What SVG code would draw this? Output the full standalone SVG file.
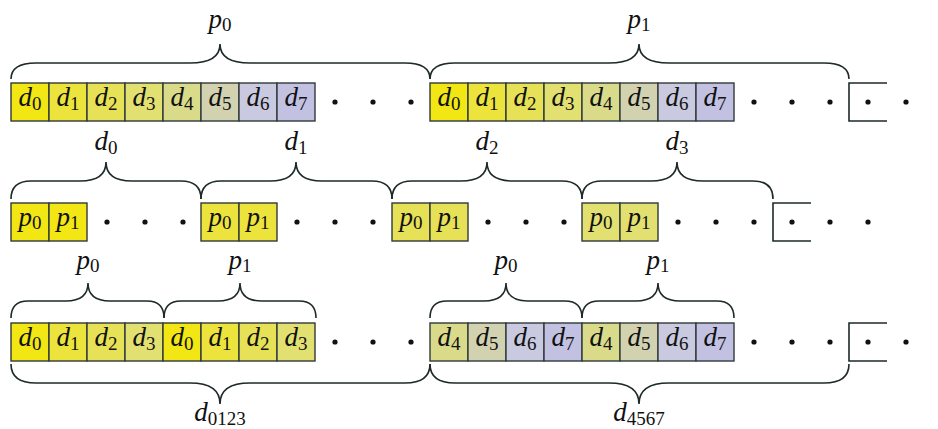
<svg xmlns="http://www.w3.org/2000/svg" width="938" height="429" viewBox="0 0 938 429">
<style>
.c{stroke:#2f3a3a;stroke-width:1.4}
.k0{fill:#f2e714}.k1{fill:#ece43c}.k2{fill:#e6e156}.k3{fill:#e2e070}
.k4{fill:#d9db8a}.k5{fill:#d2d2b0}.k6{fill:#c9c9df}.k7{fill:#c2c1e2}
.t{font-family:"Liberation Serif",serif;font-style:italic;font-size:27px;fill:#111;text-anchor:middle}
.s{font-style:normal;font-size:19px}
.b{fill:none;stroke:#1e2a2a;stroke-width:1.6}
.dot{fill:#111}
</style>
<defs>
<circle id="dt" r="2.6" class="dot"/>
</defs>

<g id="row1">
<g id="r1a">
<rect x="11" y="83" width="38" height="38" class="c k0"/><rect x="49" y="83" width="38" height="38" class="c k1"/>
<rect x="87" y="83" width="38" height="38" class="c k2"/><rect x="125" y="83" width="38" height="38" class="c k3"/>
<rect x="163" y="83" width="38" height="38" class="c k4"/><rect x="201" y="83" width="38" height="38" class="c k5"/>
<rect x="239" y="83" width="38" height="38" class="c k6"/><rect x="277" y="83" width="38" height="38" class="c k7"/>
<text x="30" y="106" class="t">d<tspan class="s" dy="4">0</tspan></text>
<text x="68" y="106" class="t">d<tspan class="s" dy="4">1</tspan></text>
<text x="106" y="106" class="t">d<tspan class="s" dy="4">2</tspan></text>
<text x="144" y="106" class="t">d<tspan class="s" dy="4">3</tspan></text>
<text x="182" y="106" class="t">d<tspan class="s" dy="4">4</tspan></text>
<text x="220" y="106" class="t">d<tspan class="s" dy="4">5</tspan></text>
<text x="258" y="106" class="t">d<tspan class="s" dy="4">6</tspan></text>
<text x="296" y="106" class="t">d<tspan class="s" dy="4">7</tspan></text>
</g>
<g id="r1b">
<rect x="430" y="83" width="38" height="38" class="c k0"/><rect x="468" y="83" width="38" height="38" class="c k1"/>
<rect x="506" y="83" width="38" height="38" class="c k2"/><rect x="544" y="83" width="38" height="38" class="c k3"/>
<rect x="582" y="83" width="38" height="38" class="c k4"/><rect x="620" y="83" width="38" height="38" class="c k5"/>
<rect x="658" y="83" width="38" height="38" class="c k6"/><rect x="696" y="83" width="38" height="38" class="c k7"/>
<text x="449" y="106" class="t">d<tspan class="s" dy="4">0</tspan></text>
<text x="487" y="106" class="t">d<tspan class="s" dy="4">1</tspan></text>
<text x="525" y="106" class="t">d<tspan class="s" dy="4">2</tspan></text>
<text x="563" y="106" class="t">d<tspan class="s" dy="4">3</tspan></text>
<text x="601" y="106" class="t">d<tspan class="s" dy="4">4</tspan></text>
<text x="639" y="106" class="t">d<tspan class="s" dy="4">5</tspan></text>
<text x="677" y="106" class="t">d<tspan class="s" dy="4">6</tspan></text>
<text x="715" y="106" class="t">d<tspan class="s" dy="4">7</tspan></text>
</g>
<g id="r1dots">
<use href="#dt" x="335" y="102"/><use href="#dt" x="373" y="102"/><use href="#dt" x="411" y="102"/>
<use href="#dt" x="754" y="102"/><use href="#dt" x="792" y="102"/><use href="#dt" x="830" y="102"/>
<use href="#dt" x="868" y="102"/><use href="#dt" x="906" y="102"/>
<path d="M887 83 H849 V121 H887" class="b"/>
</g>
<text x="220" y="28" class="t">p<tspan class="s" dy="3">0</tspan></text>
<text x="639" y="28" class="t">p<tspan class="s" dy="3">1</tspan></text>
</g>

<g id="row2">
<rect x="11" y="203" width="38" height="38" class="c k0"/><rect x="49" y="203" width="38" height="38" class="c k0"/>
<rect x="201" y="203" width="38" height="38" class="c k1"/><rect x="239" y="203" width="38" height="38" class="c k1"/>
<rect x="392" y="203" width="38" height="38" class="c k2"/><rect x="430" y="203" width="38" height="38" class="c k2"/>
<rect x="582" y="203" width="38" height="38" class="c k3"/><rect x="620" y="203" width="38" height="38" class="c k3"/>
<text x="30" y="226" class="t">p<tspan class="s" dy="3">0</tspan></text>
<text x="68" y="226" class="t">p<tspan class="s" dy="3">1</tspan></text>
<text x="220" y="226" class="t">p<tspan class="s" dy="3">0</tspan></text>
<text x="258" y="226" class="t">p<tspan class="s" dy="3">1</tspan></text>
<text x="411" y="226" class="t">p<tspan class="s" dy="3">0</tspan></text>
<text x="449" y="226" class="t">p<tspan class="s" dy="3">1</tspan></text>
<text x="601" y="226" class="t">p<tspan class="s" dy="3">0</tspan></text>
<text x="639" y="226" class="t">p<tspan class="s" dy="3">1</tspan></text>
<use href="#dt" x="107" y="222"/><use href="#dt" x="145" y="222"/><use href="#dt" x="183" y="222"/>
<use href="#dt" x="297" y="222"/><use href="#dt" x="335" y="222"/><use href="#dt" x="373" y="222"/>
<use href="#dt" x="488" y="222"/><use href="#dt" x="526" y="222"/><use href="#dt" x="564" y="222"/>
<use href="#dt" x="678" y="222"/><use href="#dt" x="716" y="222"/><use href="#dt" x="754" y="222"/>
<use href="#dt" x="792" y="222"/><use href="#dt" x="830" y="222"/><use href="#dt" x="868" y="222"/>
<path d="M811 203 H773 V241 H811" class="b"/>
<text x="106" y="150" class="t">d<tspan class="s" dy="4">0</tspan></text>
<text x="296" y="150" class="t">d<tspan class="s" dy="4">1</tspan></text>
<text x="487" y="150" class="t">d<tspan class="s" dy="4">2</tspan></text>
<text x="677" y="150" class="t">d<tspan class="s" dy="4">3</tspan></text>
</g>

<g id="row3">
<rect x="11" y="323" width="38" height="38" class="c k0"/><rect x="49" y="323" width="38" height="38" class="c k1"/>
<rect x="87" y="323" width="38" height="38" class="c k2"/><rect x="125" y="323" width="38" height="38" class="c k3"/>
<rect x="163" y="323" width="38" height="38" class="c k0"/><rect x="201" y="323" width="38" height="38" class="c k1"/>
<rect x="239" y="323" width="38" height="38" class="c k2"/><rect x="277" y="323" width="38" height="38" class="c k3"/>
<text x="30" y="346" class="t">d<tspan class="s" dy="4">0</tspan></text>
<text x="68" y="346" class="t">d<tspan class="s" dy="4">1</tspan></text>
<text x="106" y="346" class="t">d<tspan class="s" dy="4">2</tspan></text>
<text x="144" y="346" class="t">d<tspan class="s" dy="4">3</tspan></text>
<text x="182" y="346" class="t">d<tspan class="s" dy="4">0</tspan></text>
<text x="220" y="346" class="t">d<tspan class="s" dy="4">1</tspan></text>
<text x="258" y="346" class="t">d<tspan class="s" dy="4">2</tspan></text>
<text x="296" y="346" class="t">d<tspan class="s" dy="4">3</tspan></text>
<rect x="430" y="323" width="38" height="38" class="c k4"/><rect x="468" y="323" width="38" height="38" class="c k5"/>
<rect x="506" y="323" width="38" height="38" class="c k6"/><rect x="544" y="323" width="38" height="38" class="c k7"/>
<rect x="582" y="323" width="38" height="38" class="c k4"/><rect x="620" y="323" width="38" height="38" class="c k5"/>
<rect x="658" y="323" width="38" height="38" class="c k6"/><rect x="696" y="323" width="38" height="38" class="c k7"/>
<text x="449" y="346" class="t">d<tspan class="s" dy="4">4</tspan></text>
<text x="487" y="346" class="t">d<tspan class="s" dy="4">5</tspan></text>
<text x="525" y="346" class="t">d<tspan class="s" dy="4">6</tspan></text>
<text x="563" y="346" class="t">d<tspan class="s" dy="4">7</tspan></text>
<text x="601" y="346" class="t">d<tspan class="s" dy="4">4</tspan></text>
<text x="639" y="346" class="t">d<tspan class="s" dy="4">5</tspan></text>
<text x="677" y="346" class="t">d<tspan class="s" dy="4">6</tspan></text>
<text x="715" y="346" class="t">d<tspan class="s" dy="4">7</tspan></text>
<use href="#dt" x="335" y="342"/><use href="#dt" x="373" y="342"/><use href="#dt" x="411" y="342"/>
<use href="#dt" x="754" y="342"/><use href="#dt" x="792" y="342"/><use href="#dt" x="830" y="342"/>
<use href="#dt" x="868" y="342"/><use href="#dt" x="906" y="342"/>
<path d="M887 323 H849 V361 H887" class="b"/>
<text x="88" y="269" class="t">p<tspan class="s" dy="3">0</tspan></text>
<text x="240" y="269" class="t">p<tspan class="s" dy="3">1</tspan></text>
<text x="506" y="269" class="t">p<tspan class="s" dy="3">0</tspan></text>
<text x="658" y="269" class="t">p<tspan class="s" dy="3">1</tspan></text>
<text x="220" y="421" class="t">d<tspan class="s" dy="4">0123</tspan></text>
<text x="639" y="421" class="t">d<tspan class="s" dy="4">4567</tspan></text>
</g>

<g id="connectors">
<path class="b" d="M11 79 Q11 63 36 63 L190 63 Q220 63 220 44 Q220 63 250 63 L405 63 Q430 63 430 79"/>
<path class="b" d="M430 79 Q430 63 455 63 L609 63 Q639 63 639 44 Q639 63 669 63 L824 63 Q849 63 849 79"/>
<path class="b" d="M11 199 Q11 181 31 181 L80 181 Q106 181 106 162 Q106 181 132 181 L181 181 Q201 181 201 199"/>
<path class="b" d="M201 199 Q201 181 221 181 L270 181 Q296 181 296 162 Q296 181 322 181 L372 181 Q392 181 392 199"/>
<path class="b" d="M392 199 Q392 181 412 181 L461 181 Q487 181 487 162 Q487 181 513 181 L562 181 Q582 181 582 199"/>
<path class="b" d="M582 199 Q582 181 602 181 L651 181 Q677 181 677 162 Q677 181 703 181 L753 181 Q773 181 773 199"/>
<path class="b" d="M11 318 Q11 301 28 301 L66 301 Q88 301 88 283 Q88 301 110 301 L147 301 Q164 301 164 318"/>
<path class="b" d="M164 318 Q164 301 181 301 L218 301 Q240 301 240 283 Q240 301 262 301 L299 301 Q316 301 316 318"/>
<path class="b" d="M430 318 Q430 301 447 301 L484 301 Q506 301 506 283 Q506 301 528 301 L565 301 Q582 301 582 318"/>
<path class="b" d="M582 318 Q582 301 599 301 L636 301 Q658 301 658 283 Q658 301 680 301 L717 301 Q734 301 734 318"/>
<path class="b" d="M11 364 Q11 383 36 383 L190 383 Q220 383 220 404 Q220 383 250 383 L405 383 Q430 383 430 364"/>
<path class="b" d="M430 364 Q430 383 455 383 L609 383 Q639 383 639 404 Q639 383 669 383 L824 383 Q849 383 849 364"/>
</g>
</svg>
